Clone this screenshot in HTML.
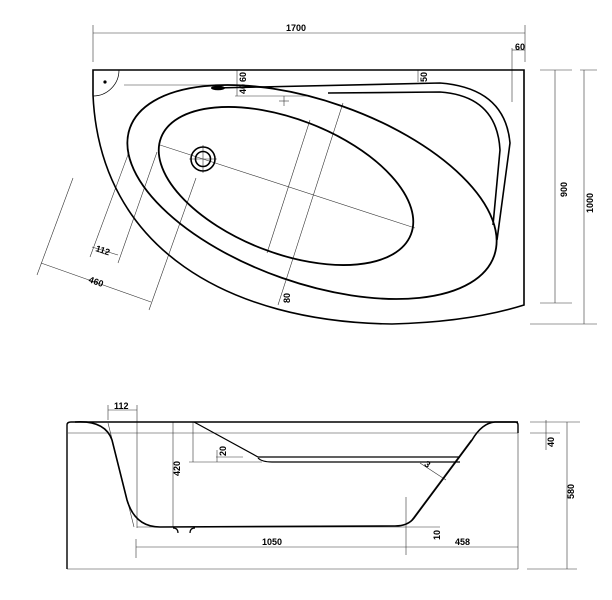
<!DOCTYPE html>
<html><head><style>body{margin:0;background:#fff}svg{display:block}text{font-family:"Liberation Sans",sans-serif;font-size:9px;font-weight:bold;fill:#000}</style></head>
<body>
<svg width="612" height="600" viewBox="0 0 612 600" xmlns="http://www.w3.org/2000/svg">
<g fill="none" stroke="#000">
<!-- TOP VIEW -->
<g stroke-width="0.6" stroke="#333">
<line x1="93" y1="33" x2="525" y2="33"/>
<line x1="93" y1="25" x2="93" y2="62"/>
<line x1="525" y1="25" x2="525" y2="62"/>
<line x1="512" y1="48" x2="512" y2="102"/>
<line x1="512" y1="50" x2="525" y2="50"/>
<line x1="540" y1="70" x2="572" y2="70"/>
<line x1="540" y1="303" x2="572" y2="303"/>
<line x1="555" y1="70" x2="555" y2="303"/>
<line x1="580" y1="70" x2="597" y2="70"/>
<line x1="530" y1="324" x2="597" y2="324"/>
<line x1="584" y1="70" x2="584" y2="324"/>
<line x1="124" y1="85" x2="215" y2="85"/>
<line x1="237" y1="70" x2="237" y2="96"/>
<line x1="235" y1="96" x2="310" y2="96"/>
<line x1="418" y1="70" x2="418" y2="82"/>
<line x1="279" y1="101" x2="289" y2="101"/><line x1="284" y1="96" x2="284" y2="106"/>
<line x1="160" y1="145" x2="415" y2="228"/>
<line x1="343" y1="103" x2="278" y2="305"/>
<line x1="310" y1="120" x2="267" y2="253"/>
<line x1="129" y1="152" x2="90" y2="257"/>
<line x1="157" y1="152" x2="118" y2="263"/>
<line x1="196" y1="178" x2="149" y2="310"/>
<line x1="73" y1="178" x2="37" y2="275"/>
<line x1="92" y1="247" x2="118" y2="255"/>
<line x1="41" y1="263" x2="151" y2="302"/>
<line x1="189" y1="159" x2="217" y2="159"/><line x1="203" y1="145" x2="203" y2="173"/>
</g>
<path d="M93,70 L524,70 L524,305 Q470,322 392,324 C230,322 100,250 93,95 Z" stroke-width="1.6"/>
<path d="M93,96 A26,26 0 0 0 119,70" stroke-width="0.7"/>
<ellipse cx="312" cy="192" rx="193" ry="91" transform="rotate(19.3 312 192)" stroke-width="1.8"/>
<ellipse cx="286" cy="186" rx="134" ry="67" transform="rotate(21.2 286 186)" stroke-width="1.8"/>
<path d="M215,88 L440,83 Q505,88 510,143 L497,240" stroke-width="1.6"/>
<path d="M328,93 L440,92 Q497,96 500,150 L493,225" stroke-width="1.6"/>
<circle cx="203" cy="159" r="12" stroke-width="1.6"/>
<circle cx="203" cy="159" r="7.5" stroke-width="1.6"/>
<!-- SIDE VIEW -->
<g stroke-width="0.6" stroke="#333">
<line x1="68" y1="433" x2="518" y2="433"/>
<line x1="518" y1="433" x2="518" y2="569"/>
<line x1="67" y1="569" x2="518" y2="569"/>
<line x1="108" y1="405" x2="108" y2="420"/>
<line x1="108" y1="410" x2="137" y2="410"/>
<line x1="108" y1="423" x2="134" y2="527"/>
<line x1="137" y1="405" x2="137" y2="528"/>
<line x1="173" y1="422" x2="173" y2="527"/>
<line x1="193" y1="422" x2="193" y2="462"/>
<line x1="189" y1="462" x2="262" y2="462"/>
<line x1="217" y1="450" x2="217" y2="462"/>
<line x1="216" y1="457" x2="243" y2="457"/>
<line x1="420" y1="463" x2="446" y2="480"/>
<line x1="471" y1="440" x2="410" y2="522"/>
<line x1="406" y1="497" x2="406" y2="555"/>
<line x1="400" y1="527" x2="440" y2="527"/>
<line x1="136" y1="547" x2="518" y2="547"/>
<line x1="136" y1="539" x2="136" y2="558"/>
<line x1="530" y1="422" x2="580" y2="422"/>
<line x1="530" y1="433" x2="560" y2="433"/>
<line x1="546" y1="420" x2="546" y2="450"/>
<line x1="567" y1="422" x2="567" y2="569"/>
<line x1="527" y1="569" x2="577" y2="569"/>
<line x1="137" y1="527" x2="400" y2="527"/>
</g>
<path d="M67,569 L67,425 Q67,422 71,422 L515,422 Q518,422 518,425 L518,433" stroke-width="1.4"/>
<path d="M75,422 Q105,420 112,440 L127,500 Q135,527 160,527 L395,526 Q408,526 414,518 L472,440 Q482,423 495,422 L518,422" stroke-width="1.6"/>
<path d="M194,422 L258,457 L460,457" stroke-width="1.2"/>
<path d="M258,458 Q262,462 272,462 L460,462" stroke-width="1.2"/>
<path d="M178,533 Q178,528 173,528 M190,533 Q190,528 195,528" stroke-width="1.2"/>
</g>
<circle cx="105" cy="82" r="1.6" fill="#000"/>
<ellipse cx="218" cy="88" rx="7" ry="2.3" fill="#000"/>
<text x="286" y="31">1700</text>
<text x="515" y="50">60</text>
<text x="95" y="251" transform="rotate(18 95 251)">112</text>
<text x="88" y="282" transform="rotate(20 88 282)">460</text>
<text transform="translate(246,82) rotate(-90)">60</text>
<text transform="translate(246,94) rotate(-90)">40</text>
<text transform="translate(427,82) rotate(-90)">50</text>
<text transform="translate(290,303) rotate(-90)">80</text>
<text transform="translate(567,197) rotate(-90)">900</text>
<text transform="translate(593,213) rotate(-90)">1000</text>
<text x="114" y="409">112</text>
<text transform="translate(180,476) rotate(-90)">420</text>
<text transform="translate(226,456) rotate(-90)">20</text>
<text x="424" y="468" transform="rotate(35 428 466)">3</text>
<text transform="translate(440,540) rotate(-90)">10</text>
<text x="262" y="545">1050</text>
<text x="455" y="545">458</text>
<text transform="translate(554,447) rotate(-90)">40</text>
<text transform="translate(574,499) rotate(-90)">580</text>
</svg>
</body></html>
